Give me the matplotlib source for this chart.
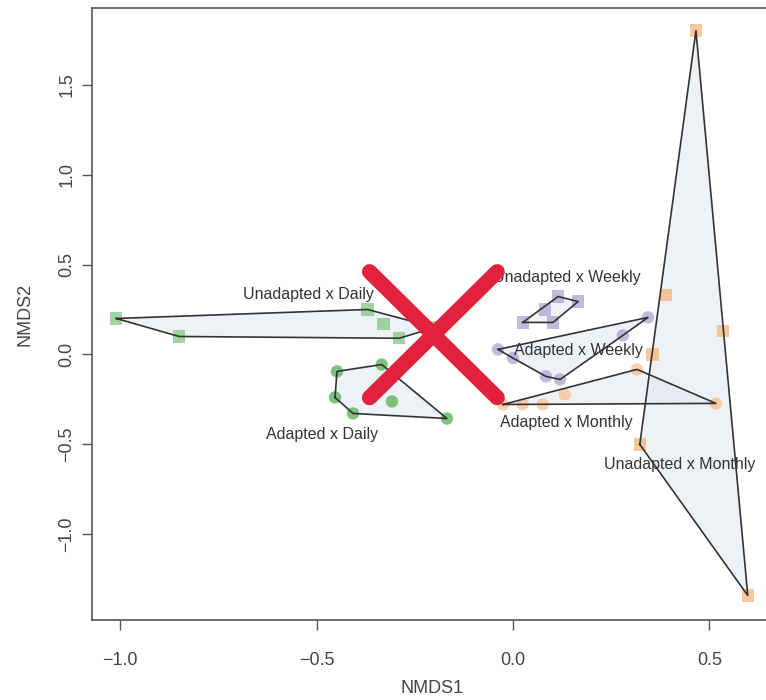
import numpy as np
import matplotlib
matplotlib.use('Agg')
import matplotlib.pyplot as plt

plt.rcParams['font.family'] = ['Liberation Sans', 'DejaVu Sans']

# NMDS scores per group
ud_x = [-1.01, -0.85, -0.37, -0.33, -0.29, -0.198]
ud_y = [0.20, 0.10, 0.25, 0.17, 0.09, 0.15]

ad_x = [-0.448, -0.334, -0.453, -0.407, -0.308, -0.168]
ad_y = [-0.094, -0.056, -0.239, -0.328, -0.261, -0.356]

uw_x = [0.115, 0.166, 0.081, 0.025, 0.102]
uw_y = [0.322, 0.294, 0.250, 0.178, 0.178]

aw_x = [-0.038, 0.000, 0.084, 0.120, 0.280, 0.344]
aw_y = [0.028, -0.020, -0.122, -0.139, 0.106, 0.206]

am_x = [-0.025, 0.025, 0.076, 0.132, 0.316, 0.517]
am_y = [-0.278, -0.277, -0.277, -0.222, -0.083, -0.272]

um_x = [0.466, 0.390, 0.535, 0.355, 0.323, 0.598]
um_y = [1.80, 0.33, 0.13, 0.00, -0.50, -1.34]

group_names = ['Unadapted x Daily', 'Adapted x Daily', 'Unadapted x Weekly',
               'Adapted x Weekly', 'Adapted x Monthly', 'Unadapted x Monthly']
label_x = [-0.52, -0.485, 0.138, 0.168, 0.135, 0.425]
label_y = [0.335, -0.445, 0.43, 0.02, -0.38, -0.61]

# red cross drawn over the figure
cross_a_x = [-0.365, -0.04]
cross_a_y = [0.46, -0.24]
cross_b_x = [-0.04, -0.365]
cross_b_y = [0.46, -0.24]


def convex_hull(xs, ys):
    pts = sorted(set(zip(xs, ys)))

    def cross(o, a, b):
        return (a[0] - o[0]) * (b[1] - o[1]) - (a[1] - o[1]) * (b[0] - o[0])

    lower = []
    for p in pts:
        while len(lower) >= 2 and cross(lower[-2], lower[-1], p) <= 0:
            lower.pop()
        lower.append(p)
    upper = []
    for p in reversed(pts):
        while len(upper) >= 2 and cross(upper[-2], upper[-1], p) <= 0:
            upper.pop()
        upper.append(p)
    hull = lower[:-1] + upper[:-1]
    return np.array(hull)


groups = [
    (ud_x, ud_y, 's', '#7cc47c', 0.7),
    (ad_x, ad_y, 'o', '#5db55d', 0.8),
    (uw_x, uw_y, 's', '#a69dcf', 0.7),
    (aw_x, aw_y, 'o', '#a69dcf', 0.7),
    (am_x, am_y, 'o', '#f8c28e', 0.75),
    (um_x, um_y, 's', '#f6b57a', 0.75),
]

fig = plt.figure(figsize=(7.66, 7.0), dpi=100)
ax = fig.add_axes([0.120, 0.1143, 0.888, 0.8743])

for xs, ys, mk, col, a in groups:
    ax.scatter(xs, ys, marker=mk, s=80, color=col, alpha=a, edgecolors='none', zorder=2)
    hull = convex_hull(xs, ys)
    ax.fill(hull[:, 0], hull[:, 1], facecolor='#dfe5ee', alpha=0.5, edgecolor='none', zorder=1)
    closed = np.vstack([hull, hull[:1]])
    ax.plot(closed[:, 0], closed[:, 1], color='#333333', lw=1.2, zorder=3)

for name, lx, ly in zip(group_names, label_x, label_y):
    ax.text(lx, ly, name, ha='center', va='center', fontsize=11.5, color='#333333', zorder=4)

ax.plot(cross_a_x, cross_a_y, color='#e2223c', lw=11, solid_capstyle='round', zorder=5)
ax.plot(cross_b_x, cross_b_y, color='#e2223c', lw=11, solid_capstyle='round', zorder=5)

ax.set_xlim(-1.072, 0.66)
ax.set_ylim(-1.476, 1.926)
ax.set_xticks([-1.0, -0.5, 0.0, 0.5])
ax.set_yticks([-1.0, -0.5, 0.0, 0.5, 1.0, 1.5])
ax.set_xticklabels(['\u22121.0', '\u22120.5', '0.0', '0.5'])
ax.set_yticklabels(['\u22121.0', '\u22120.5', '0.0', '0.5', '1.0', '1.5'], rotation=90, va='center')
ax.tick_params(direction='out', length=7, width=1, colors='#555555', labelcolor='#444444',
               labelsize=13)
ax.tick_params(axis='x', pad=16)
ax.tick_params(axis='y', pad=5)
for sp in ax.spines.values():
    sp.set_color('#555555')
    sp.set_linewidth(1.2)

ax.set_xlabel('NMDS1', fontsize=13, color='#444444', labelpad=8)
ax.set_ylabel('NMDS2', fontsize=13, color='#444444', labelpad=18)

fig.savefig('out.png', dpi=100)
